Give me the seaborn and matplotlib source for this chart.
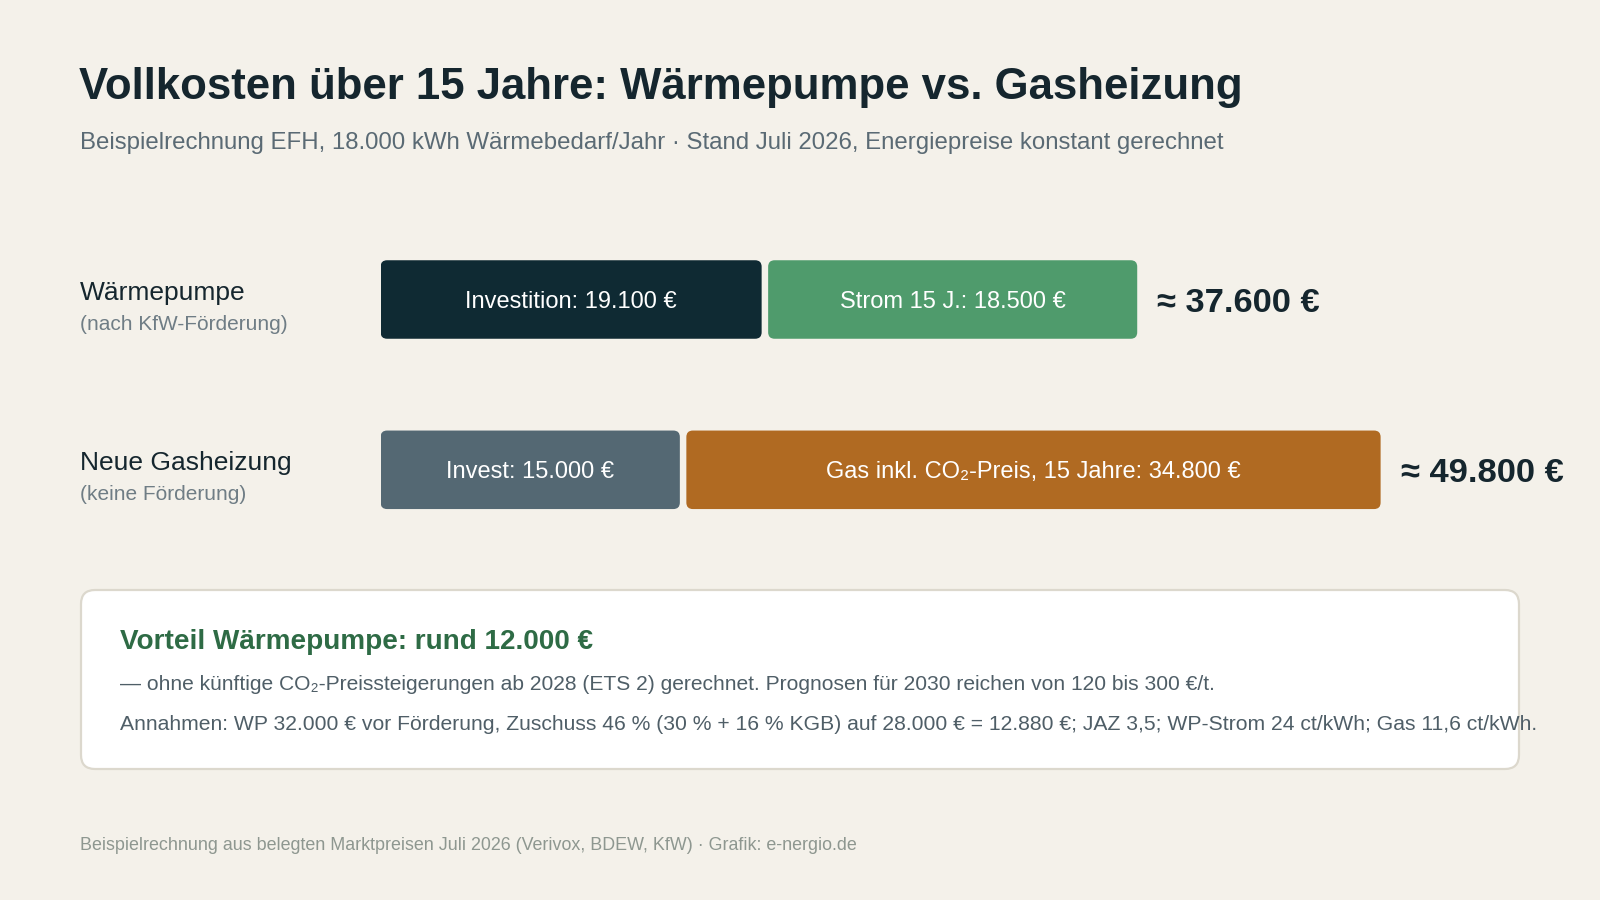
import matplotlib
matplotlib.use("Agg")
import matplotlib.pyplot as plt
import matplotlib.transforms as mtransforms
from matplotlib.patches import FancyBboxPatch
import seaborn as sns
import pandas as pd

# ---------------- data ----------------
title = "Vollkosten über 15 Jahre: Wärmepumpe vs. Gasheizung"
subtitle = ("Beispielrechnung EFH, 18.000 kWh Wärmebedarf/Jahr · Stand Juli 2026, "
            "Energiepreise konstant gerechnet")
rows = ["Wärmepumpe", "Neue Gasheizung"]
row_notes = ["(nach KfW-Förderung)", "(keine Förderung)"]
invest = [19100, 15000]
running = [18500, 34800]
invest_labels = ["Investition: 19.100 €", "Invest: 15.000 €"]
running_labels = ["Strom 15 J.: 18.500 €", "Gas inkl. CO₂-Preis, 15 Jahre: 34.800 €"]
total_labels = ["≈ 37.600 €", "≈ 49.800 €"]
box_title = "Vorteil Wärmepumpe: rund 12.000 €"
box_line1 = ("— ohne künftige CO₂-Preissteigerungen ab 2028 (ETS 2) gerechnet. "
             "Prognosen für 2030 reichen von 120 bis 300 €/t.")
box_line2 = ("Annahmen: WP 32.000 € vor Förderung, Zuschuss 46 % (30 % + 16 % KGB) auf "
             "28.000 € = 12.880 €; JAZ 3,5; WP-Strom 24 ct/kWh; Gas 11,6 ct/kWh.")
footer = ("Beispielrechnung aus belegten Marktpreisen Juli 2026 (Verivox, BDEW, KfW) "
          "· Grafik: e-nergio.de")

# ---------------- style ----------------
BG = "#F4F1EA"
DARK = "#15262E"
GREY = "#5A6A74"
invest_colors = ["#0F2A33", "#546873"]
running_colors = ["#4F9B6C", "#B06A22"]

sns.set_theme(style="white")
plt.rcParams["font.family"] = ["Liberation Sans", "DejaVu Sans"]

W, H = 1600, 900
fig = plt.figure(figsize=(16, 9), dpi=100, facecolor=BG)

# background / text layer in pixel coordinates
bg = fig.add_axes([0, 0, 1, 1])
bg.set_xlim(0, W)
bg.set_ylim(H, 0)
bg.axis("off")
bg.set_facecolor(BG)

bg.text(79, 88, title, fontsize=31.5, fontweight="bold", color=DARK, va="center", ha="left")
bg.text(80, 143, subtitle, fontsize=17.3, color=GREY, va="center", ha="left")

label_y = [293, 463]
for i in range(2):
    bg.text(80, label_y[i], rows[i], fontsize=19, color=DARK, va="center", ha="left")
    bg.text(80, label_y[i] + 31.5, row_notes[i], fontsize=15, color="#6F7D85", va="center", ha="left")

# info box
box = FancyBboxPatch((81, 590), 1438, 179,
                     boxstyle="round,pad=0,rounding_size=14",
                     facecolor="white", edgecolor="#DCD8CD", linewidth=1.6, zorder=1)
bg.add_patch(box)
bg.text(120, 642, box_title, fontsize=20.1, fontweight="bold", color="#2E6B45", va="center", ha="left", zorder=2)
bg.text(120, 685, box_line1, fontsize=15.1, color="#4F5E67", va="center", ha="left", zorder=2)
bg.text(120, 724, box_line2, fontsize=15.25, color="#4F5E67", va="center", ha="left", zorder=2)

bg.text(80, 845, footer, fontsize=12.85, color="#8E9790", va="center", ha="left")

# ---------------- bars ----------------
x0_px = 380.6
px_per_eur = 0.01995
row_sep_px = 170.3
row1_center = 299.5
gap_px = 6.5
gap_eur = gap_px / px_per_eur

top_px = row1_center - row_sep_px / 2
bottom_px = top_px + 2 * row_sep_px
ax = fig.add_axes([x0_px / W, 1 - bottom_px / H, (W - x0_px) / W, (bottom_px - top_px) / H])
ax.patch.set_alpha(0)

df = pd.DataFrame({"row": rows, "invest": invest, "running": running})

sns.barplot(data=df, x="running", y="row", hue="row", palette=running_colors,
            width=0.461, saturation=1, legend=False, ax=ax, orient="h")
n_run = len(ax.patches)
sns.barplot(data=df, x="invest", y="row", hue="row", palette=invest_colors,
            width=0.461, saturation=1, legend=False, ax=ax, orient="h")

ax.set_xlim(0, (W - x0_px) / px_per_eur)
ax.set_ylim(1.5, -0.5)
ax.axis("off")

aspect = px_per_eur / row_sep_px
r_eur = 6.5 / px_per_eur
patches = list(ax.patches)
for k, p in enumerate(patches):
    x, y, w, h = p.get_x(), p.get_y(), p.get_width(), p.get_height()
    i = int(round(y + h / 2))
    if k < n_run:
        x = invest[i] + gap_eur
    fc = p.get_facecolor()
    p.remove()
    ax.add_patch(FancyBboxPatch((x, y), w, h,
                                boxstyle=f"round,pad=0,rounding_size={r_eur}",
                                mutation_aspect=aspect, facecolor=fc,
                                edgecolor="none", zorder=2))

lab_tr = mtransforms.offset_copy(ax.transData, fig=fig, x=0, y=-2, units="dots")
tot_tr = mtransforms.offset_copy(ax.transData, fig=fig, x=20, y=-4, units="dots")
for i in range(2):
    ax.text(invest[i] / 2, i, invest_labels[i], ha="center", va="center",
            color="white", fontsize=17, transform=lab_tr, zorder=3)
    ax.text(invest[i] + gap_eur + running[i] / 2, i, running_labels[i], ha="center",
            va="center", color="white", fontsize=17, transform=lab_tr, zorder=3)
    ax.text(invest[i] + running[i] + gap_eur, i, total_labels[i], ha="left", va="center",
            color=DARK, fontsize=24.8, fontweight="bold", transform=tot_tr, zorder=3)

fig.savefig("out.png", dpi=100, facecolor=BG)
